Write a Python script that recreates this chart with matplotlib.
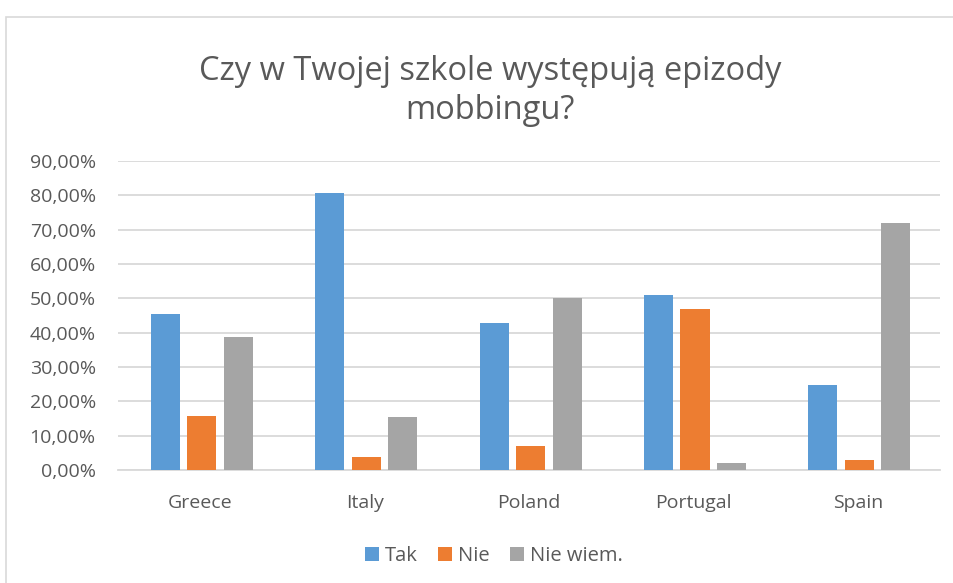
import matplotlib.pyplot as plt
import numpy as np
from matplotlib.patches import Rectangle
from matplotlib.ticker import FuncFormatter

countries = ['Greece', 'Italy', 'Poland', 'Portugal', 'Spain']
tak = [45.5, 80.7, 42.9, 51.0, 24.9]
nie = [15.6, 3.8, 7.0, 46.9, 2.9]
nie_wiem = [38.8, 15.3, 50.0, 1.9, 72.0]
series_names = ['Tak', 'Nie', 'Nie wiem.']
colors = ['#5b9bd5', '#ed7d31', '#a5a5a5']

plt.rcParams['font.family'] = ['Open Sans', 'DejaVu Sans']
text_color = '#595959'

fig = plt.figure(figsize=(9.54, 5.83), dpi=100)
W, H = 954, 583
ax = fig.add_axes([118 / W, 1 - 470 / H, (940 - 118) / W, (470 - 161) / H])

# chart border
fig.add_artist(Rectangle((6 / W, -0.1), 1.2, 1 - 17 / H + 0.1, transform=fig.transFigure,
                         fill=False, edgecolor='#d9d9d9', linewidth=1.2))

x = np.arange(len(countries))
width = 0.177
step = 0.222
for i, (vals, name, c) in enumerate(zip([tak, nie, nie_wiem], series_names, colors)):
    ax.bar(x + (i - 1) * step + 0.01, vals, width, color=c, label=name, zorder=3)

ax.set_xlim(-0.5, len(countries) - 0.5)
ax.set_ylim(0, 90)
ax.set_yticks(np.arange(0, 91, 10))
ax.yaxis.set_major_formatter(FuncFormatter(lambda v, p: f'{v:.2f}%'.replace('.', ',')))
ax.grid(axis='y', color='#d9d9d9', linewidth=1.3, zorder=0)
ax.set_xticks(x)
ax.set_xticklabels(countries)
for s in ['top', 'right', 'left']:
    ax.spines[s].set_visible(False)
ax.spines['bottom'].set_color('#d9d9d9')
ax.spines['bottom'].set_linewidth(1.3)
ax.tick_params(axis='both', length=0, labelsize=14, colors=text_color)
ax.tick_params(axis='x', pad=17)
ax.tick_params(axis='y', pad=16)

fig.text(490 / W, 1 - 91 / H, 'Czy w Twojej szkole występują epizody\nmobbingu?',
         ha='center', va='center', fontsize=23.5, color=text_color, linespacing=1.25)

fig.legend(loc='center', bbox_to_anchor=(494 / W, 1 - 556 / H), ncol=3, frameon=False,
           fontsize=14.5, labelcolor=text_color, handlelength=0.7, handleheight=0.7,
           handletextpad=0.3, columnspacing=1.0)

fig.savefig('out.png', dpi=100)
